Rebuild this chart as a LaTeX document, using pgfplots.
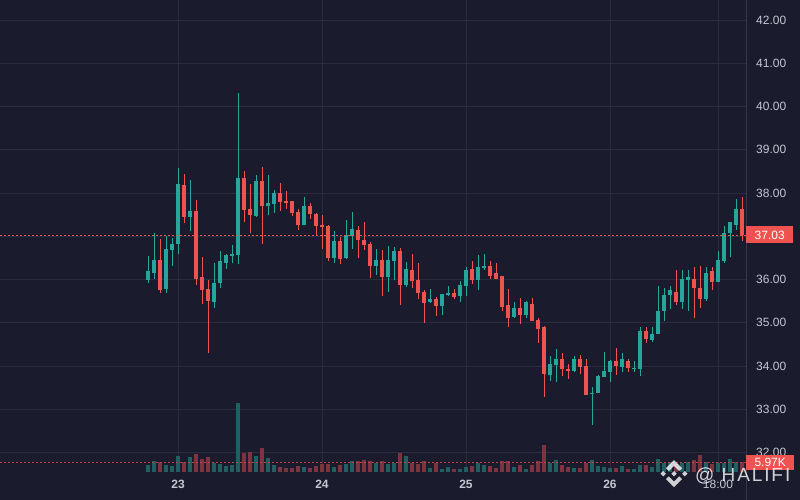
\documentclass[border=0pt]{standalone}
\usepackage{pgfplots}
\pgfplotsset{compat=1.18}
\usepackage{pgfplotstable}
\usepackage{fontspec}
\setmainfont{Liberation Sans}
\definecolor{bg}{HTML}{1B1B2E}
\definecolor{gridc}{HTML}{2A2B3E}
\definecolor{border}{HTML}{363749}
\definecolor{up}{HTML}{26A69A}
\definecolor{down}{HTML}{EF5350}
\definecolor{upv}{HTML}{215F63}
\definecolor{downv}{HTML}{7E3340}
\definecolor{lab}{HTML}{C4C7D0}

\pgfplotstableread{
h o hi lo c v
-5 35.98 36.54 35.91 36.19 4.2
-4 36.14 37.08 36.00 36.46 6.6
-2 35.79 37.00 35.68 36.70 4.2
-1 36.68 36.97 36.31 36.83 3.6
0 36.81 38.57 36.58 38.20 9.6
2 37.44 38.29 37.12 37.58 9.0
6 35.49 36.39 35.33 35.93 5.4
7 35.91 36.67 35.81 36.42 4.8
8 36.39 36.60 36.25 36.56 3.6
9 36.54 36.79 36.39 36.59 4.2
10 36.56 40.31 36.35 38.34 42.6
13 37.46 38.41 37.44 38.27 9.6
15 37.71 38.41 37.48 37.76 8.4
16 37.74 38.06 37.53 37.99 4.2
21 37.27 37.90 37.27 37.71 3.0
26 36.49 37.12 36.38 36.89 3.0
28 36.49 37.37 36.47 37.03 4.8
29 37.01 37.56 36.70 37.17 6.6
33 36.31 36.70 36.10 36.45 5.4
35 36.05 36.77 35.71 36.45 4.8
36 36.42 36.75 35.98 36.66 5.4
38 35.87 36.40 35.82 36.24 9.6
42 35.47 35.78 35.45 35.54 2.4
44 35.38 35.66 35.17 35.66 1.8
45 35.64 35.85 35.61 35.68 3.0
47 35.61 35.96 35.47 35.87 1.9
48 35.85 36.29 35.61 36.22 2.9
50 35.98 36.56 35.75 36.29 5.8
51 36.26 36.59 36.22 36.31 4.6
56 35.14 35.49 35.12 35.35 2.8
58 35.19 35.51 35.10 35.47 1.6
62 33.80 34.22 33.66 34.05 5.8
63 34.03 34.40 33.64 34.17 7.6
66 33.89 34.22 33.85 34.17 2.2
69 33.36 33.52 32.64 33.38 7.6
70 33.38 33.80 33.38 33.78 3.4
71 33.75 34.33 33.75 33.89 2.8
72 33.85 34.15 33.64 34.12 2.2
74 33.98 34.29 33.85 34.17 3.4
76 33.94 34.12 33.85 33.96 1.6
77 33.92 34.91 33.78 34.82 4.0
79 34.61 34.89 34.56 34.75 2.8
80 34.75 35.84 34.73 35.28 8.2
81 35.28 35.81 35.05 35.63 5.8
82 35.63 35.86 35.31 35.75 6.4
84 35.49 36.21 35.31 36.02 5.8
85 35.98 36.21 35.28 36.05 6.4
88 35.54 36.30 35.51 36.14 6.4
90 35.95 36.65 35.95 36.46 5.8
91 36.42 37.23 36.39 37.07 5.8
92 37.07 37.32 36.51 37.32 8.2
93 37.25 37.85 37.14 37.62 6.4
}\upcandles

\pgfplotstableread{
h o hi lo c v
-3 36.46 36.93 35.68 35.75 6.0
1 38.18 38.43 37.30 37.44 6.0
3 37.58 37.83 35.88 36.02 10.8
4 36.05 36.51 35.44 35.75 7.8
5 35.77 35.98 34.31 35.51 9.0
11 38.34 38.50 37.34 37.60 11.4
12 37.64 38.20 37.07 37.48 12.6
14 38.27 38.59 36.81 37.71 15.0
17 37.99 38.22 37.58 37.78 3.0
18 37.81 38.04 37.64 37.76 2.4
19 37.81 37.81 37.46 37.53 2.4
20 37.55 37.62 37.14 37.27 3.6
22 37.69 37.76 37.39 37.51 2.4
23 37.51 37.53 37.02 37.23 3.6
24 37.27 37.50 36.70 37.22 4.8
25 37.24 37.27 36.42 36.49 4.8
27 36.89 36.98 36.36 36.47 4.2
30 37.14 37.24 36.49 36.91 6.6
31 36.91 37.33 36.68 36.80 7.2
32 36.82 36.86 36.03 36.31 6.6
34 36.45 36.68 35.61 36.05 6.6
37 36.66 36.73 35.41 35.87 11.4
39 36.22 36.59 35.80 35.96 5.4
40 35.98 36.38 35.54 35.68 4.8
41 35.71 35.75 34.99 35.45 6.6
43 35.54 35.59 35.15 35.38 5.4
46 35.68 35.78 35.54 35.59 1.8
49 36.24 36.42 35.89 35.98 3.4
52 36.32 36.42 36.02 36.09 3.4
53 36.14 36.37 36.02 36.02 2.2
54 36.07 36.09 35.26 35.37 7.0
55 35.40 35.77 34.89 35.12 7.0
57 35.33 35.58 34.98 35.19 4.6
59 35.44 35.58 35.05 35.05 4.0
60 35.07 35.12 34.54 34.86 7.0
61 34.89 34.93 33.29 33.82 16.5
64 34.17 34.31 33.78 33.92 4.6
65 33.94 34.05 33.71 33.89 2.8
67 34.17 34.26 33.82 33.98 2.2
68 34.01 34.17 33.34 33.34 5.8
73 34.12 34.42 33.80 34.01 2.2
75 34.12 34.17 33.85 33.96 1.6
78 34.82 34.89 34.54 34.63 4.0
83 35.72 36.23 35.42 35.49 5.2
86 36.02 36.28 35.10 35.81 7.6
87 35.81 36.32 35.33 35.54 10.6
89 36.19 36.30 35.75 35.95 5.2
94 37.62 37.90 36.90 37.03 5.97
}\downcandles

\pgfplotsset{
  candle/.style={draw=none, mark=none, forget plot,
    error bars/.cd, y dir=plus, y explicit, error mark=none,
    error bar style={draw=#1}},
}

\begin{document}
\begin{tikzpicture}
\useasboundingbox (0,0) rectangle (800pt,500pt);
\fill[bg] (0,0) rectangle (800pt,500pt);
\begin{axis}[
  name=main,
  at={(0pt,28pt)}, anchor=south west,
  scale only axis, width=746pt, height=472pt,
  xmin=-29.667, xmax=94.667, ymin=31.549, ymax=42.462,
  axis line style={draw=none},
  grid=major, major grid style={gridc, line width=0.9pt},
  xtick={0,24,48,72,90},
  xticklabels={\textbf{23},\textbf{24},\textbf{25},\textbf{26},18:00},
  ytick={32,33,...,42},
  yticklabel pos=right,
  major tick length=0pt,
  tick label style={font=\fontsize{12}{14}\selectfont, text=lab},
  yticklabel style={anchor=west, inner sep=0pt, xshift=10pt,
    /pgf/number format/.cd, fixed, fixed zerofill, precision=2, assume math mode=true},
  xticklabel style={anchor=north, inner sep=0pt, yshift=-8pt},
]
% volume bars
\addplot[candle={upv, line width=4.7pt}]
  table[x=h, y expr=31.549, y error plus expr={\thisrow{v}*0.03757}] {\upcandles};
\addplot[candle={downv, line width=4.7pt}]
  table[x=h, y expr=31.549, y error plus expr={\thisrow{v}*0.03757}] {\downcandles};
% volume level line
\addplot[down!75!bg, dash pattern=on 2pt off 2pt, line width=0.8pt] coordinates {(-29.667,31.773) (94.667,31.773)};
% wicks
\addplot[candle={up, line width=1pt}]
  table[x=h, y=lo, y error plus expr={\thisrow{hi}-\thisrow{lo}}] {\upcandles};
\addplot[candle={down, line width=1pt}]
  table[x=h, y=lo, y error plus expr={\thisrow{hi}-\thisrow{lo}}] {\downcandles};
% bodies
\addplot[candle={up, line width=4.8pt}]
  table[x=h, y=o, y error plus expr={max(\thisrow{c}-\thisrow{o},0.025)}] {\upcandles};
\addplot[candle={down, line width=4.8pt}]
  table[x=h, y=c, y error plus expr={max(\thisrow{o}-\thisrow{c},0.025)}] {\downcandles};
% last price line
\addplot[down, dash pattern=on 2pt off 2pt, line width=0.8pt] coordinates {(-29.667,37.03) (94.667,37.03)};
\coordinate (pl) at (axis cs:94.667,37.03);
\coordinate (vl) at (axis cs:94.667,31.773);
\end{axis}
\draw[border, line width=0.9pt] (746pt,0pt) -- (746pt,500pt);
\node[fill=down, text=white, anchor=west, minimum width=47pt, minimum height=17pt, inner sep=0pt,
  font=\fontsize{12}{14}\selectfont] at (pl) {37.03};
\node[fill=down, text=white, anchor=west, minimum width=48pt, minimum height=15pt, inner sep=0pt,
  font=\fontsize{12}{14}\selectfont] at (vl) {5.97K};
% watermark
\begin{scope}[shift={(674pt,26.3pt)}, scale=13.5pt/1cm, white, opacity=0.8]
  \fill (0,0.2) -- (0.2,0) -- (0,-0.2) -- (-0.2,0) -- cycle;
  \fill (0.8,0.2) -- (1,0) -- (0.8,-0.2) -- (0.6,0) -- cycle;
  \fill (-0.8,0.2) -- (-0.6,0) -- (-0.8,-0.2) -- (-1,0) -- cycle;
  \fill (0,1) -- (0.6,0.4) -- (0.38,0.2) -- (0,0.58) -- (-0.38,0.2) -- (-0.6,0.4) -- cycle;
  \fill (0,-1) -- (0.6,-0.4) -- (0.38,-0.2) -- (0,-0.58) -- (-0.38,-0.2) -- (-0.6,-0.4) -- cycle;
\end{scope}
\node[anchor=base west, inner sep=0pt, text=white, opacity=0.8,
  font=\fontsize{19}{22}\selectfont\addfontfeature{LetterSpace=10}] at (695pt,18.3pt) {@ HALIFI};
\end{tikzpicture}
\end{document}
